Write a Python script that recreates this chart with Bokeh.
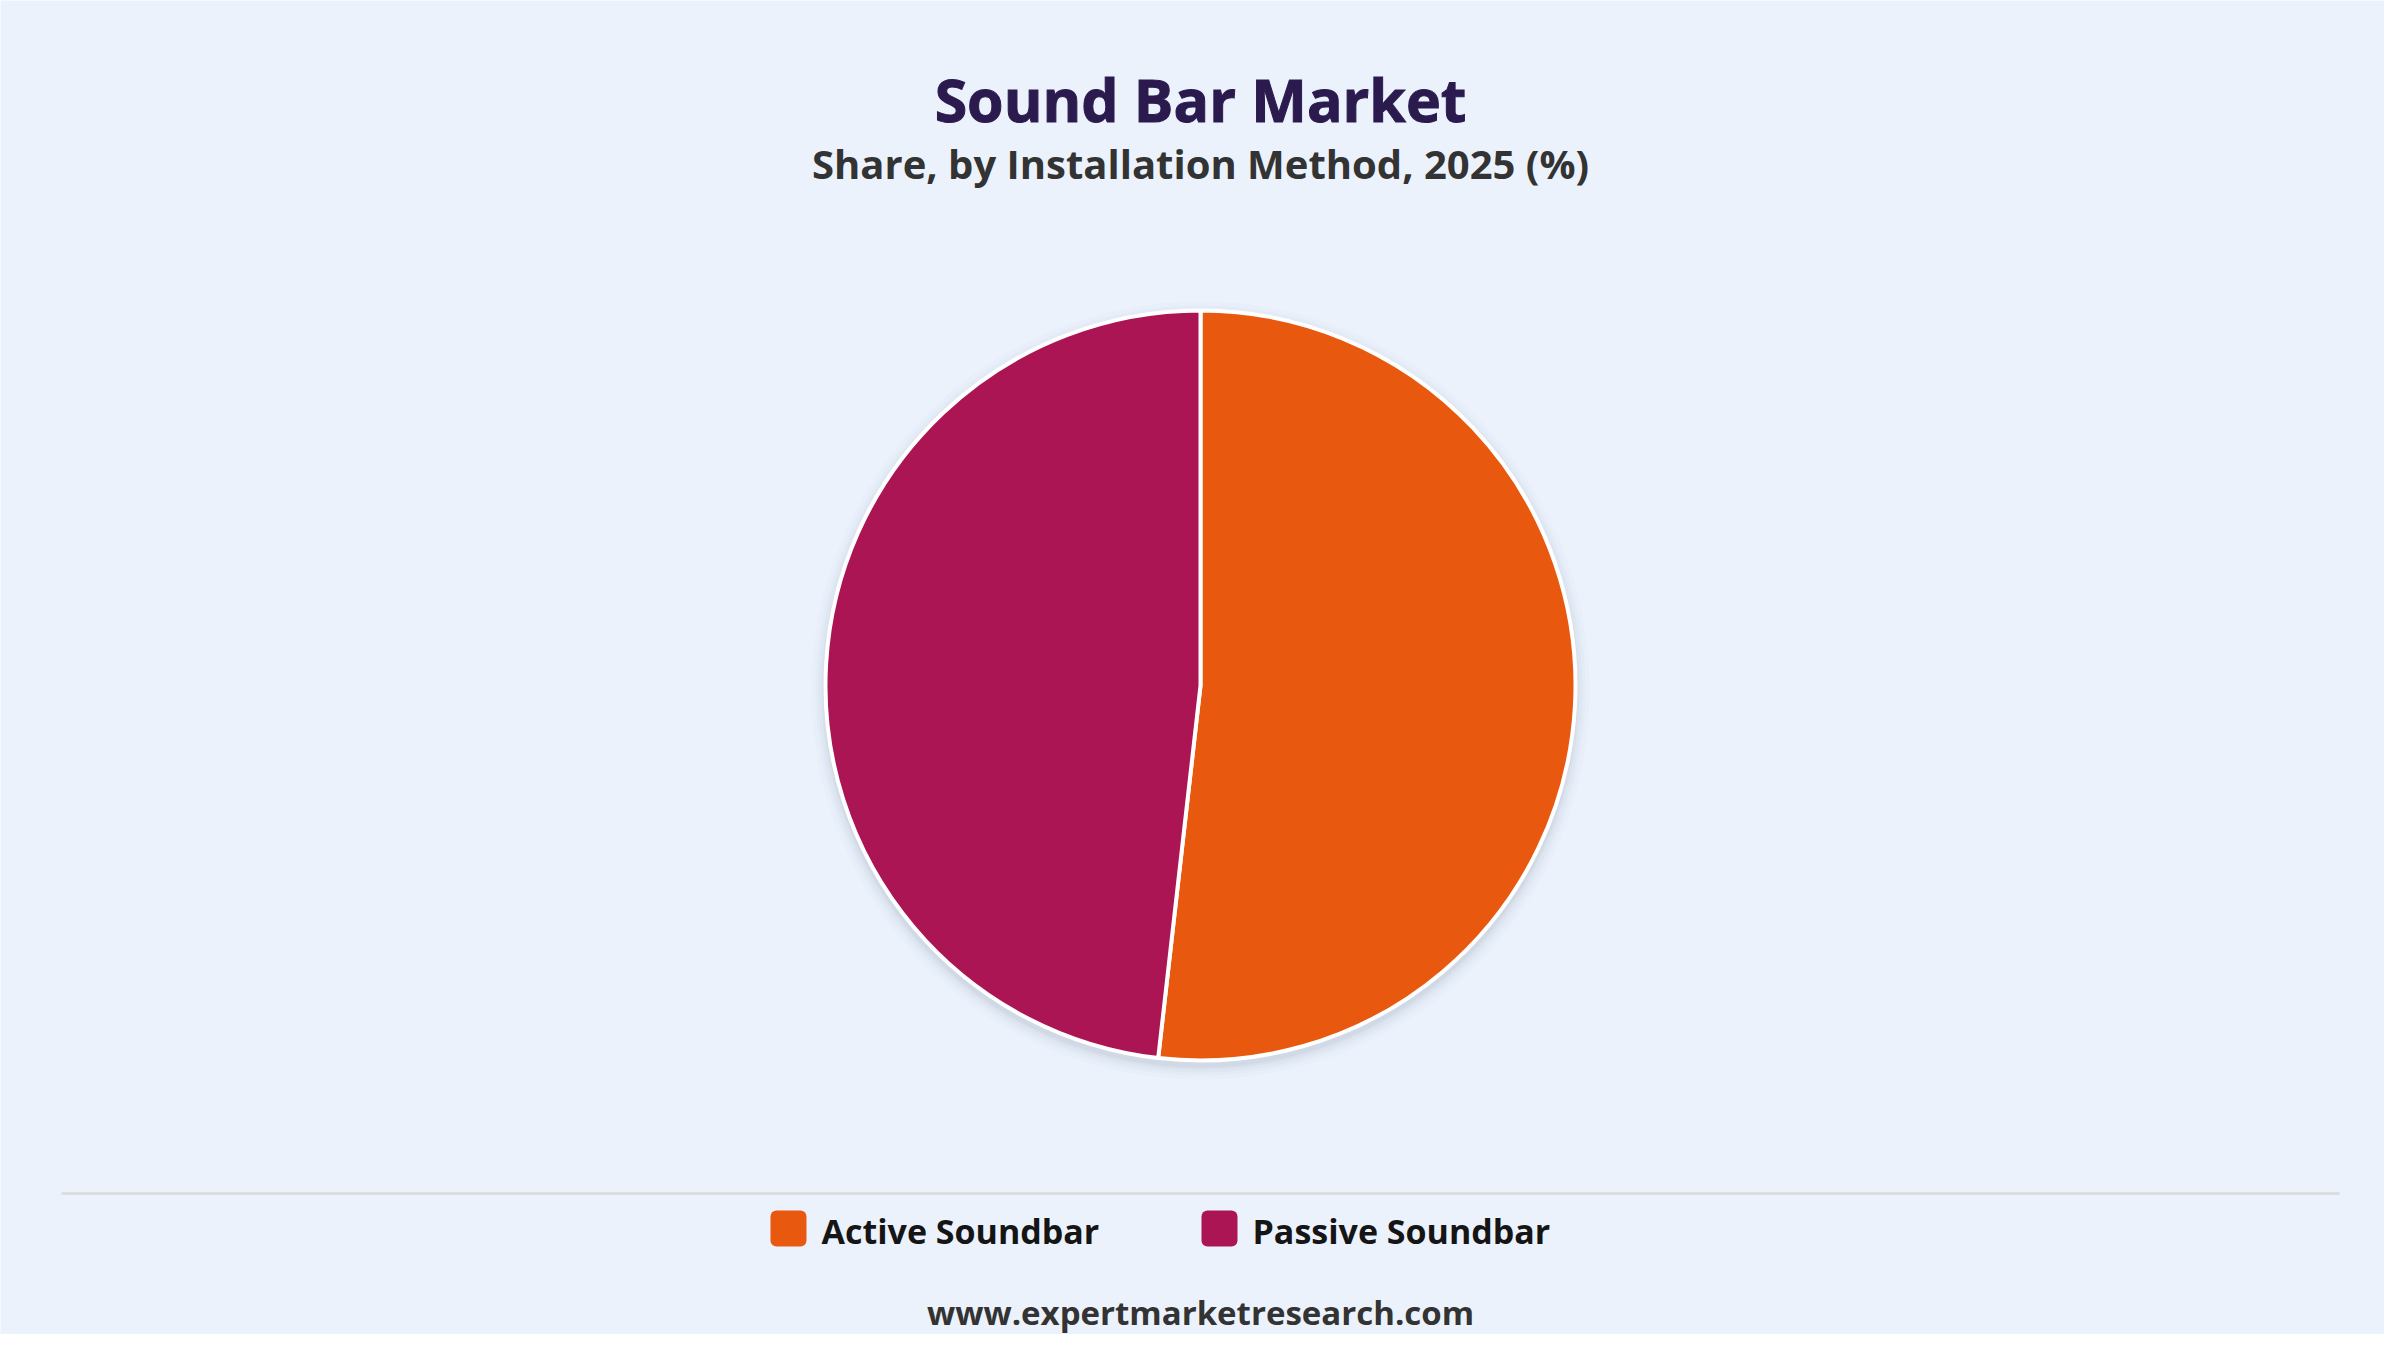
import math
from bokeh.plotting import figure
from bokeh.models import Range1d, ColumnDataSource
from bokeh.core.properties import value
from bokeh.embed import file_html
from bokeh.resources import INLINE

# ---- data ----
categories = ["Active Soundbar", "Passive Soundbar"]
shares = [51.8, 48.2]
colors = ["#E8580E", "#AB1554"]
title_text = "Sound Bar Market"
subtitle_text = "Share, by Installation Method, 2025 (%)"
footer_text = "www.expertmarketresearch.com"

W, H = 2384, 1334
BG = "#EBF2FC"
FONT = "Open Sans"

def Y(ref_y):
    return H - ref_y

def X(ref_x):
    return ref_x

p = figure(width=W, height=H, output_backend="svg", toolbar_location=None,
           x_range=Range1d(0, W), y_range=Range1d(0, H),
           min_border=0, min_border_left=0, min_border_right=0,
           min_border_top=0, min_border_bottom=0)
p.axis.visible = False
p.grid.visible = False
p.outline_line_color = None
p.background_fill_color = BG
p.border_fill_color = BG

cx, cy, r = X(1200), Y(685), 375

# soft shadow
for dr, a in [(14, 0.025), (10, 0.035), (7, 0.045), (4, 0.06), (2, 0.07)]:
    p.circle(x=[cx], y=[cy - 5], radius=r + dr, radius_units="data",
             fill_color="#7a8595", fill_alpha=a, line_color=None)

# pie wedges
total = sum(shares)
starts, ends = [], []
cum = 0.0
for s in shares:
    starts.append(math.pi / 2 - 2 * math.pi * cum / total)
    cum += s
    ends.append(math.pi / 2 - 2 * math.pi * cum / total)
src = ColumnDataSource(dict(cat=categories, val=shares, color=colors,
                            start=starts, end=ends))
p.wedge(x=cx, y=cy, radius=r, start_angle="start", end_angle="end",
        direction="clock", fill_color="color", line_color="white",
        line_width=4, source=src)

# titles
p.text(x=[X(1200)], y=[Y(98)], text=[title_text], text_font=value(FONT),
       text_font_style="bold", text_font_size="59px", text_color="#2B1A4E",
       text_outline_color="#2B1A4E",
       text_align="center", text_baseline="alphabetic")
p.text(x=[X(1200)], y=[Y(163)], text=[subtitle_text], text_font=value(FONT),
       text_font_style="bold", text_font_size="40px", text_color="#333333",
       text_align="center", text_baseline="alphabetic")

# separator
p.line(x=[X(61), X(2339)], y=[Y(1193), Y(1193)], line_color="#DCDDDF", line_width=3)

# legend
sq_x = [X(770), X(1201)]
for i, (lab, col) in enumerate(zip(categories, colors)):
    p.quad(left=[sq_x[i]], right=[sq_x[i] + 36], top=[Y(1210)], bottom=[Y(1246)],
           fill_color=col, line_color=None, border_radius=6)
    p.text(x=[sq_x[i] + 51], y=[Y(1230)], text=[lab], text_font=value(FONT),
           text_font_style="bold", text_font_size="34px", text_color="#151515",
           text_align="left", text_baseline="alphabetic")

# footer
p.text(x=[X(1200)], y=[Y(1312)], text=[footer_text], text_font=value(FONT),
       text_font_style="bold", text_font_size="33px", text_color="#333333",
       text_align="center", text_baseline="alphabetic")

open("out.html", "w").write(file_html(p, INLINE))
